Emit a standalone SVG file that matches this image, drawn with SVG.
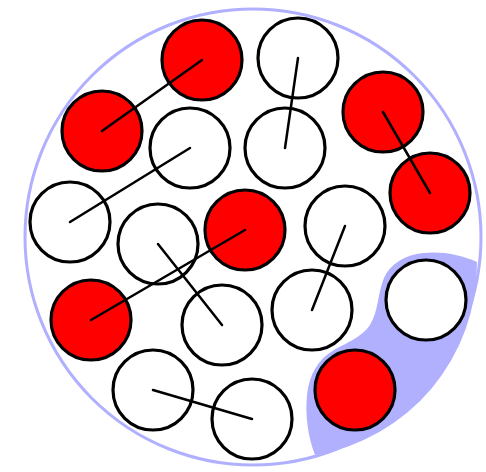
<svg xmlns="http://www.w3.org/2000/svg" width="486" height="472" viewBox="0 0 486 472">
<style>
.ball{stroke:#000;stroke-width:3.2}
.red{fill:#ff0000}
.white{fill:#ffffff}
.link{stroke:#000;stroke-width:2.5;stroke-linecap:round;fill:none}
</style>
<rect width="486" height="472" fill="#ffffff"/>
<g id="container">
<circle cx="253" cy="237" r="228" fill="#ffffff" stroke="#b0b0ff" stroke-width="3"/>
<path id="region" d="M477,262 C460,254 440,251 423,253 C405,255 390,264 384,278 C377,295 379,310 370,325 C362,337 348,342 334,350 C318,359 309,375 307,395 C305,415 308,437 315,455 A194,194 0 0 0 477,262 Z" fill="#b0b0ff"/>
</g>
<g id="A"><circle class="ball red" cx="202" cy="60" r="40"/></g>
<g id="B"><circle class="ball red" cx="102" cy="131" r="40"/></g>
<g id="C"><circle class="ball white" cx="190" cy="148" r="40"/></g>
<g id="D"><circle class="ball white" cx="70" cy="222" r="40"/></g>
<g id="E"><circle class="ball white" cx="298" cy="58" r="40"/></g>
<g id="F"><circle class="ball white" cx="285" cy="148" r="40"/></g>
<g id="G"><circle class="ball red" cx="383" cy="112" r="40"/></g>
<g id="H"><circle class="ball red" cx="430" cy="193" r="40"/></g>
<g id="I"><circle class="ball red" cx="91" cy="320" r="40"/></g>
<g id="J"><circle class="ball white" cx="153" cy="390" r="40"/></g>
<g id="K"><circle class="ball white" cx="222" cy="325" r="40"/></g>
<g id="L"><circle class="ball white" cx="252" cy="419" r="40"/></g>
<g id="M"><circle class="ball white" cx="158" cy="244" r="40"/></g>
<g id="N"><circle class="ball red" cx="245" cy="230" r="40"/></g>
<g id="O"><circle class="ball white" cx="312" cy="310" r="40"/></g>
<g id="P"><circle class="ball white" cx="345" cy="226" r="40"/></g>
<g id="Q"><circle class="ball white" cx="426" cy="300" r="40"/></g>
<g id="R"><circle class="ball red" cx="355" cy="390" r="40"/></g>
<g id="connectors">
<line class="link" x1="102" y1="131" x2="202" y2="60"/>
<line class="link" x1="70" y1="222" x2="190" y2="148"/>
<line class="link" x1="298" y1="58" x2="285" y2="148"/>
<line class="link" x1="383" y1="112" x2="430" y2="193"/>
<line class="link" x1="91" y1="320" x2="245" y2="230"/>
<line class="link" x1="158" y1="244" x2="222" y2="325"/>
<line class="link" x1="312" y1="310" x2="345" y2="226"/>
<line class="link" x1="153" y1="390" x2="252" y2="419"/>
</g>
</svg>
